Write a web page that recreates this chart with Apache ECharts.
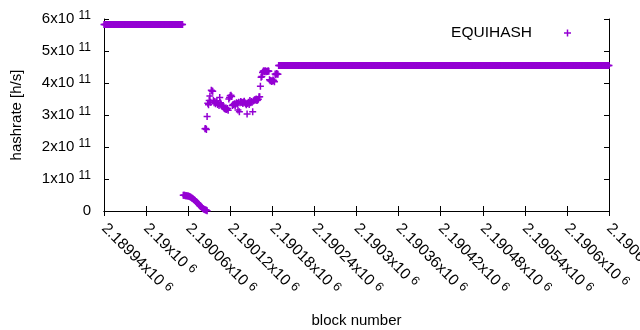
<!DOCTYPE html>
<html>
<head>
<meta charset="utf-8">
<script src="https://cdn.jsdelivr.net/npm/echarts@6/dist/echarts.min.js"></script>
<style>
  html, body { margin: 0; padding: 0; background: #fff; }
  #chart { width: 640px; height: 330px; }
</style>
</head>
<body>
<div id="chart"></div>
<script>
// axis ranges / ticks (block numbers and hashrate)
const xMin = 2189940;
const xMax = 2190660;
const xStep = 60;
const yMax = 6e11;
const yStep = 1e11;

// flat stretches: [first block, last block, hashrate]
const flatRuns = [
  [2189940, 2190052, 5.83e11],
  [2190189, 2190660, 4.55e11]
];

// falling tail after the first plateau, one value per block (x1e11)
const dropStart = 2190053;
const dropValues = [
  0.49, 0.49, 0.49, 0.48, 0.48, 0.48, 0.47, 0.47, 0.46, 0.45,
  0.44, 0.43, 0.41, 0.40, 0.38, 0.36, 0.34, 0.32, 0.30, 0.28,
  0.26, 0.24, 0.21, 0.18, 0.16, 0.14, 0.12, 0.10, 0.08, 0.06,
  0.05, 0.04, 0.03, 0.02, 0.01
];

// scattered middle part (x1e11)
const midStart = 2190084;
const midValues = [
  2.57, 2.58, 2.55, 2.95, 3.37, 3.32, 3.45, 3.59, 3.40, 3.77,
  3.75, 3.74, 3.45, 3.38, 3.42, 3.35, 3.40, 3.44, 3.33, 3.36,
  3.30, 3.55, 3.38, 3.34, 3.28, 3.30, 3.25, 3.22, 3.20, 3.18,
  3.22, 3.17, 3.20, 3.15, 3.50, 3.55, 3.60, 3.62, 3.58, 3.30,
  3.33, 3.32, 3.35, 3.30, 3.34, 3.38, 3.36, 3.16, 3.40, 3.10,
  3.38, 3.42, 3.40, 3.39, 3.36, 3.41, 3.43, 3.38, 3.35, 3.32,
  3.03, 3.36, 3.40, 3.33, 3.45, 3.38, 3.42, 3.40, 3.10, 3.44,
  3.46, 3.48, 3.47, 3.50, 3.45, 3.47, 3.49, 3.57, 3.57, 3.90,
  4.18, 4.20, 4.33, 4.37, 4.38, 4.36, 4.38, 4.35, 4.37, 4.36,
  4.38, 4.37, 4.10, 4.07, 4.08, 4.05, 4.06, 4.09, 4.07, 4.04,
  4.28, 4.26, 4.30, 4.28, 4.27
];

const seriesName = 'EQUIHASH';
const purple = '#9400d3';
// gnuplot style "+" point, 14 units box, arms 3 units thick
const plus = 'path://M5.5,0H8.5V5.5H14V8.5H8.5V14H5.5V8.5H0V5.5H5.5Z';
const font = 'Liberation Sans, Arial, sans-serif';

const points = [];
flatRuns.forEach(([a, b, v]) => {
  for (let x = a; x <= b; x++) points.push([x, v]);
});
dropValues.forEach((v, i) => points.push([dropStart + i, v * 1e11]));
midValues.forEach((v, i) => points.push([midStart + i, v * 1e11]));

const supY = {
  b: {fontSize: 15, lineHeight: 18, fontFamily: font, color: '#000'},
  s: {fontSize: 12, lineHeight: 12, verticalAlign: 'top', fontFamily: font, color: '#000'}
};
const supX = {
  b: {fontSize: 15.5, lineHeight: 18, fontFamily: font, color: '#000'},
  s: {fontSize: 12.5, lineHeight: 12, verticalAlign: 'top', fontFamily: font, color: '#000'}
};

const chart = echarts.init(document.getElementById('chart'));
chart.setOption({
  animation: false,
  backgroundColor: '#fff',
  grid: {left: 104, right: 31, top: 19, bottom: 119, outerBoundsMode: 'none'},
  legend: {
    data: [seriesName],
    right: 64,
    top: 20,
    align: 'right',
    icon: plus,
    itemWidth: 7,
    itemHeight: 7,
    textStyle: {fontSize: 15.5, fontFamily: font, color: '#000', padding: [0, 27, 0, 0]}
  },
  xAxis: [
    {
      type: 'value',
      min: xMin, max: xMax, interval: xStep,
      name: 'block number',
      nameLocation: 'middle',
      nameGap: 102,
      nameTextStyle: {fontSize: 15, fontFamily: font, color: '#000'},
      axisLine: {lineStyle: {color: '#000', width: 1}},
      axisTick: {inside: true, length: 5, lineStyle: {color: '#000'}},
      splitLine: {show: false},
      axisLabel: {
        rotate: -45,
        margin: 15,
        hideOverlap: false,
        formatter: v => `{b|${parseFloat((v / 1e6).toPrecision(6))}x10 }{s|6}`,
        rich: supX
      }
    },
    {
      type: 'value', position: 'top',
      min: xMin, max: xMax, interval: xStep,
      axisLine: {lineStyle: {color: '#000', width: 1}},
      axisTick: {inside: true, length: 5, lineStyle: {color: '#000'}},
      axisLabel: {show: false},
      splitLine: {show: false}
    }
  ],
  yAxis: [
    {
      type: 'value',
      min: 0, max: yMax, interval: yStep,
      name: 'hashrate [h/s]',
      nameLocation: 'middle',
      nameRotate: 90,
      nameGap: 80,
      nameTextStyle: {fontSize: 15, fontFamily: font, color: '#000'},
      axisLine: {show: true, lineStyle: {color: '#000', width: 1}},
      axisTick: {show: true, inside: true, length: 5, lineStyle: {color: '#000'}},
      splitLine: {show: false},
      axisLabel: {
        margin: 13,
        formatter: v => v === 0 ? '{b|0}' : `{b|${v / 1e11}x10 }{s|11}`,
        rich: supY
      }
    },
    {
      type: 'value', position: 'right',
      min: 0, max: yMax, interval: yStep,
      axisLine: {show: true, lineStyle: {color: '#000', width: 1}},
      axisTick: {show: true, inside: true, length: 5, lineStyle: {color: '#000'}},
      axisLabel: {show: false},
      splitLine: {show: false}
    }
  ],
  series: [{
    name: seriesName,
    type: 'scatter',
    symbol: plus,
    symbolSize: 7,
    itemStyle: {color: purple, opacity: 1},
    large: false,
    data: points
  }]
});
</script>
</body>
</html>
